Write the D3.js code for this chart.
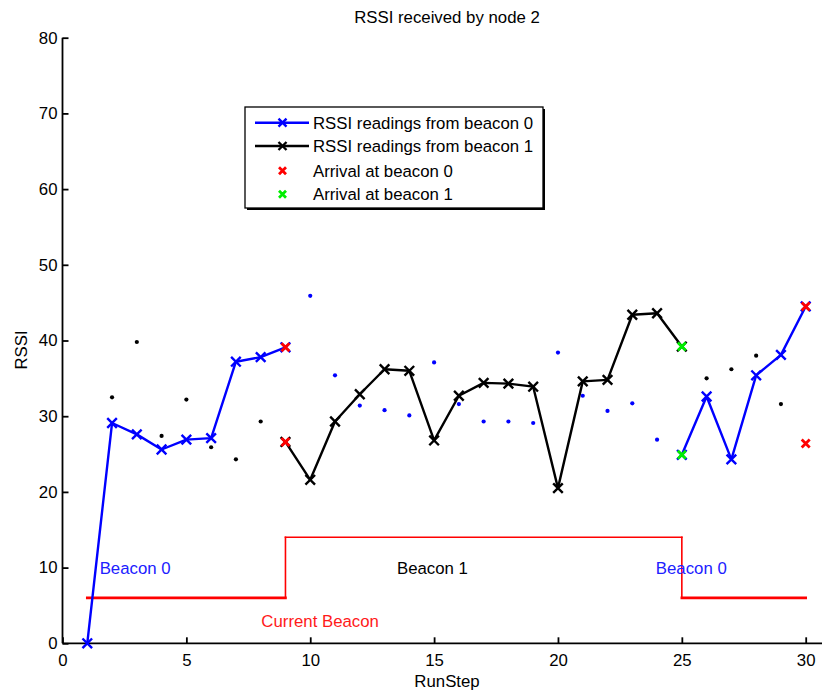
<!DOCTYPE html>
<html><head><meta charset="utf-8">
<script src="https://cdn.jsdelivr.net/npm/d3@7"></script>
<style>body{margin:0;background:#fff}svg{display:block}text{font-family:"Liberation Sans",Arial,sans-serif}</style>
</head><body><svg id="c" width="822" height="691"></svg>
<script>
// Blue line: RSSI readings from beacon 0 (first stretch, ends at arrival at beacon 0)
const blueA_x = [1,2,3,4,5,6,7,8,9];
const blueA_y = [0,29.1,27.6,25.6,26.9,27.1,37.2,37.8,39.1];
// Black line: RSSI readings from beacon 1
const black_x = [9,10,11,12,13,14,15,16,17,18,19,20,21,22,23,24,25];
const black_y = [26.6,21.6,29.3,32.9,36.2,36.0,26.8,32.7,34.4,34.3,33.9,20.5,34.6,34.8,43.4,43.6,39.2];
// Blue line: second stretch
const blueB_x = [25,26,27,28,29,30];
const blueB_y = [24.9,32.6,24.3,35.4,38.1,44.5];
// Small dots: readings from the beacon not currently followed
const blackDot_x = [2,3,4,5,6,7,8,26,27,28,29];
const blackDot_y = [32.5,39.8,27.4,32.2,25.9,24.3,29.3,35.0,36.2,38.0,31.6];
const blueDot_x = [10,11,12,13,14,15,16,17,18,19,20,21,22,23,24];
const blueDot_y = [45.9,35.4,31.4,30.8,30.1,37.1,31.6,29.3,29.3,29.1,38.4,32.7,30.7,31.7,26.9];
// Arrivals
const arr0_x = [9,9,30,30];
const arr0_y = [39.1,26.6,44.5,26.4];
const arr1_x = [25,25];
const arr1_y = [39.2,24.9];
// Current beacon step line
const cur_x = [1,9,9,25,25,30];
const cur_y = [6,6,14,14,6,6];
const xTicks = [0,5,10,15,20,25,30];
const yTicks = [0,10,20,30,40,50,60,70,80];
const legendLabels = ["RSSI readings from beacon 0","RSSI readings from beacon 1","Arrival at beacon 0","Arrival at beacon 1"];
const regionLabels = [{t:"Beacon 0",x:1.5,y:9.2,c:"#2020ff"},{t:"Beacon 1",x:13.5,y:9.2,c:"#000"},{t:"Beacon 0",x:23.95,y:9.2,c:"#2020ff"}];

const svg = d3.select("#c");
const x = d3.scaleLinear().domain([0,30]).range([62.5,805.7]);
const y = d3.scaleLinear().domain([0,80]).range([643.3,37.7]);
const fs = 16.8;

// axes
const xa = svg.append("g").attr("transform",`translate(0,${y(0)})`)
  .call(d3.axisBottom(x).tickValues(xTicks).tickSize(-6).tickPadding(9).tickFormat(d3.format("d")));
const ya = svg.append("g").attr("transform",`translate(${x(0)},0)`)
  .call(d3.axisLeft(y).tickValues(yTicks).tickSize(-6).tickPadding(5).tickFormat(d3.format("d")));
[xa,ya].forEach(g=>{
  g.selectAll("text").attr("font-size",fs).attr("fill","#000").style("font-family","Liberation Sans, Arial");
  g.selectAll("line").attr("stroke","#000").attr("stroke-width",1.8);
  g.select(".domain").attr("stroke","#000").attr("stroke-width",1.8);
});
xa.select(".domain").attr("d",`M${x(0)},0H822`);
ya.select(".domain").attr("d",`M0,${y(80)}V${y(0)}`);
xa.selectAll(".tick text").attr("dy","0.8em");

// titles
svg.append("text").attr("x",447).attr("y",23).attr("text-anchor","middle").attr("font-size",fs).text("RSSI received by node 2");
svg.append("text").attr("x",447).attr("y",687).attr("text-anchor","middle").attr("font-size",fs).text("RunStep");
svg.append("text").attr("transform","translate(27,350) rotate(-90)").attr("text-anchor","middle").attr("font-size",fs).text("RSSI");

const line = d3.line().x(d=>x(d[0])).y(d=>y(d[1]));
const zip = (a,b)=>a.map((v,i)=>[v,b[i]]);

// current beacon step (low-level segments render heavier, as in the original)
const curPts = zip(cur_x,cur_y);
const curSegs = d3.pairs(curPts);
svg.append("g").selectAll("path").data(curSegs).join("path")
  .attr("d",d=>line(d)).attr("fill","none").attr("stroke","#ff0000")
  .attr("stroke-linecap","square")
  .attr("stroke-width",d=>(d[0][1]===6&&d[1][1]===6)?2.6:1.6);
svg.append("text").attr("x",x(10.4)).attr("y",y(0)-16).attr("text-anchor","middle").attr("font-size",fs).attr("fill","#ff1a1a").text("Current Beacon");
regionLabels.forEach(r=>svg.append("text").attr("x",x(r.x)).attr("y",y(r.y)).attr("font-size",fs).attr("fill",r.c).text(r.t));

function xMark(g,cx,cy,s,col,w){
  g.append("path").attr("d",`M${cx-s},${cy-s}L${cx+s},${cy+s}M${cx-s},${cy+s}L${cx+s},${cy-s}`).attr("stroke",col).attr("stroke-width",w).attr("fill","none");
}
function series(xs,ys,col){
  const g = svg.append("g");
  g.append("path").datum(zip(xs,ys)).attr("d",line).attr("fill","none").attr("stroke",col).attr("stroke-width",2.4).attr("stroke-linejoin","round");
  xs.forEach((v,i)=>xMark(g,x(v),y(ys[i]),4.8,col,2.4));
}
series(blueA_x,blueA_y,"#0000ff");
series(black_x,black_y,"#000");
series(blueB_x,blueB_y,"#0000ff");

// small dots
svg.append("g").selectAll("circle").data(zip(blackDot_x,blackDot_y)).join("circle")
  .attr("cx",d=>x(d[0])).attr("cy",d=>y(d[1])).attr("r",2.1).attr("fill","#000");
svg.append("g").selectAll("circle").data(zip(blueDot_x,blueDot_y)).join("circle")
  .attr("cx",d=>x(d[0])).attr("cy",d=>y(d[1])).attr("r",2.1).attr("fill","#0000ff");

// arrivals
const ga = svg.append("g");
arr0_x.forEach((v,i)=>xMark(ga,x(v),y(arr0_y[i]),4,"#ff0000",2.8));
arr1_x.forEach((v,i)=>xMark(ga,x(v),y(arr1_y[i]),4,"#00ee00",2.8));

// legend
const lg = svg.append("g");
lg.append("rect").attr("x",247).attr("y",109).attr("width",298).attr("height",101).attr("fill","#000");
lg.append("rect").attr("x",245).attr("y",107).attr("width",298).attr("height",101).attr("fill","#fff").attr("stroke","#000").attr("stroke-width",1.3);
const ly = [122.7,146,170.7,194.3];
const lcol = ["#0000ff","#000","#ff0000","#00ee00"];
legendLabels.forEach((t,i)=>{
  if(i<2){
    lg.append("line").attr("x1",255).attr("x2",309).attr("y1",ly[i]).attr("y2",ly[i]).attr("stroke",lcol[i]).attr("stroke-width",2.4);
    xMark(lg,282.5,ly[i],4,lcol[i],2.4);
  } else xMark(lg,282.5,ly[i],3.5,lcol[i],2.8);
  lg.append("text").attr("x",313).attr("y",ly[i]).attr("dy","0.35em").attr("font-size",fs).text(t);
});
</script></body></html>
